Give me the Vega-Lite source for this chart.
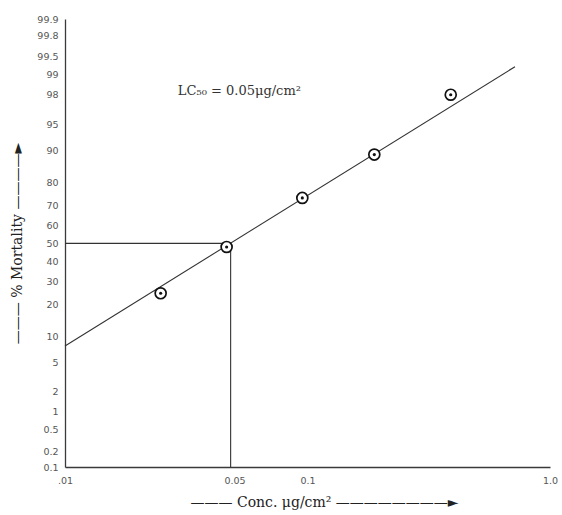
{
  "$schema": "https://vega.github.io/schema/vega-lite/v6.json",
  "width": 485,
  "height": 448,
  "autosize": {"type": "none"},
  "padding": {"left": 65, "top": 19, "right": 12, "bottom": 48},
  "background": "white",
  "config": {"view": {"stroke": null}},
  "datasets": {
    "points": [
      {"conc": 0.0248, "mortality": 24.5, "probit": 4.310},
      {"conc": 0.0464, "mortality": 48.0, "probit": 4.950},
      {"conc": 0.0952, "mortality": 73.5, "probit": 5.628},
      {"conc": 0.1886, "mortality": 89.0, "probit": 6.2265},
      {"conc": 0.3896, "mortality": 98.0, "probit": 7.0537}
    ],
    "fit": [
      {"conc": 0.01, "mortality": 7.8, "probit": 3.582},
      {"conc": 0.717, "mortality": 99.27, "probit": 7.441}
    ],
    "guide": [
      {"step": 1, "conc": 0.01, "mortality": 50, "probit": 5},
      {"step": 2, "conc": 0.0482, "mortality": 50, "probit": 5},
      {"step": 3, "conc": 0.0482, "mortality": 0.1, "probit": 1.9098}
    ],
    "note": [
      {"conc": 0.0292, "probit": 7.105, "label": "LC₅₀ = 0.05μg/cm²"}
    ]
  },
  "encoding": {
    "x": {
      "field": "conc",
      "type": "quantitative",
      "scale": {"type": "log", "domain": [0.01, 1], "nice": false, "zero": false},
      "axis": {
        "values": [0.01, 0.05, 0.1, 1],
        "labelExpr": "datum.value < 0.02 ? '.01' : datum.value < 0.07 ? '0.05' : datum.value < 0.5 ? '0.1' : '1.0'",
        "ticks": false,
        "grid": false,
        "labelFlush": false,
        "domainColor": "#3a3a3a",
        "domainWidth": 1.3,
        "labelFont": "DejaVu Sans",
        "labelFontSize": 9.5,
        "labelColor": "#555555",
        "labelPadding": 8,
        "title": "——— Conc. μg/cm² ————————►",
        "titleFont": "DejaVu Serif",
        "titleFontSize": 14,
        "titleFontWeight": "normal",
        "titleColor": "#222222",
        "titlePadding": 11,
        "titleX": 259
      }
    },
    "y": {
      "field": "probit",
      "type": "quantitative",
      "scale": {"domain": [1.9098, 8.10], "nice": false, "zero": false},
      "axis": {
        "values": [1.9098, 2.1218, 2.4242, 2.6737, 2.9463, 3.3551, 3.7184, 4.1584, 4.4756, 4.7467, 5, 5.2533, 5.5244, 5.8416, 6.2816, 6.6449, 7.0537, 7.3263, 7.5758, 7.8782, 8.0902],
        "labelExpr": "format(cumulativeNormal(datum.value - 5) * 100, '.1~f')",
        "ticks": false,
        "grid": false,
        "labelFlush": false,
        "labelOverlap": false,
        "domainColor": "#3a3a3a",
        "domainWidth": 1.3,
        "labelFont": "DejaVu Sans",
        "labelFontSize": 9.5,
        "labelColor": "#555555",
        "labelPadding": 7,
        "title": "——— % Mortality ————►",
        "titleFont": "DejaVu Serif",
        "titleFontSize": 14,
        "titleFontWeight": "normal",
        "titleColor": "#222222",
        "titlePadding": 12
      }
    }
  },
  "layer": [
    {
      "data": {"name": "guide"},
      "mark": {"type": "line", "color": "#333333", "strokeWidth": 1.1},
      "encoding": {"order": {"field": "step", "type": "quantitative"}}
    },
    {
      "data": {"name": "fit"},
      "mark": {"type": "line", "color": "#333333", "strokeWidth": 1.1},
      "encoding": {}
    },
    {
      "data": {"name": "points"},
      "mark": {"type": "point", "shape": "circle", "filled": true, "fill": "white", "stroke": "#111111", "strokeWidth": 1.7, "size": 120, "opacity": 1}
    },
    {
      "data": {"name": "points"},
      "mark": {"type": "circle", "color": "#111111", "size": 10, "opacity": 1}
    },
    {
      "data": {"name": "note"},
      "mark": {"type": "text", "font": "DejaVu Serif", "fontSize": 13, "align": "left", "baseline": "middle", "color": "#333333"},
      "encoding": {"text": {"field": "label", "type": "nominal"}}
    }
  ]
}
